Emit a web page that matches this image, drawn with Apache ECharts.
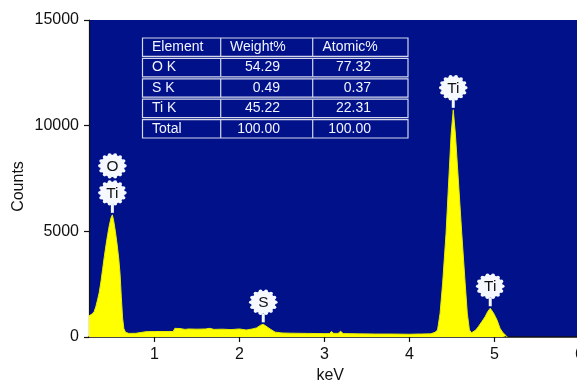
<!DOCTYPE html>
<html>
<head>
<meta charset="utf-8">
<script src="https://cdn.jsdelivr.net/npm/echarts@6/dist/echarts.min.js"></script>
<style>
  html, body { margin: 0; padding: 0; background: #fff; }
  #chart { width: 577px; height: 387px; }
</style>
</head>
<body>
<div id="chart"></div>
<script>
// EDS spectrum
const energyKeV = [
  0.23, 0.25, 0.27, 0.29, 0.31, 0.33, 0.35, 0.37, 0.39, 0.41, 0.43, 0.45, 0.47, 0.49, 0.505,
  0.52, 0.54, 0.56, 0.58, 0.595, 0.61, 0.625, 0.64, 0.66, 0.68, 0.70, 0.78, 0.80, 0.90, 1.00,
  1.10, 1.22, 1.24, 1.30, 1.36, 1.40, 1.50, 1.60, 1.65, 1.70, 1.80, 1.90, 2.00, 2.08, 2.15,
  2.20, 2.25, 2.28, 2.31, 2.36, 2.42, 2.50, 2.60, 2.80, 3.00, 3.06, 3.08, 3.11, 3.16, 3.19,
  3.22, 3.40, 3.60, 3.80, 4.00, 4.10, 4.12, 4.14, 4.25, 4.30, 4.33, 4.36, 4.39, 4.43, 4.47,
  4.49, 4.515, 4.54, 4.565, 4.615, 4.655, 4.68, 4.705, 4.73, 4.75, 4.78, 4.81, 4.85, 4.89, 4.92,
  4.95, 4.99, 5.03, 5.065, 5.10, 5.14, 5.15
];
const spectrumCounts = [
  1000, 1050, 1100, 1200, 1430, 1750, 2100, 2600, 3200, 3800, 4350, 4850, 5300, 5650, 5780,
  5500, 5000, 4400, 3700, 3000, 1900, 900, 400, 220, 170, 170, 175, 250, 250, 260,
  260, 260, 410, 400, 360, 380, 370, 380, 410, 360, 370, 350, 380, 330, 380,
  430, 560, 600, 520, 380, 230, 190, 180, 170, 160, 160, 260, 170, 170, 270,
  160, 150, 140, 140, 130, 140, 220, 140, 150, 220, 330, 1120, 2540, 4900, 8040,
  9600, 10750, 9600, 8040, 4900, 2540, 1120, 330, 200, 200, 330, 490, 720, 960, 1200,
  1360, 1120, 800, 410, 200, 50, 0
];

// peak annotations
const peakLabels = ['Ti', 'O', 'S', 'Ti', 'Ti'];
const peakKeV = [0.505, 0.505, 2.28, 4.515, 4.95];
const peakCounts = [5780, 5780, 600, 10750, 1360];
const peakStack = [0, 1, 0, 0, 0];

// axis ticks
const xTicks = [1, 2, 3, 4, 5, 6];
const yTicks = [0, 5000, 10000, 15000];

// quantification table
const tableHeader = ['Element', 'Weight%', 'Atomic%'];
const elementNames = ['O K', 'S K', 'Ti K', 'Total'];
const weightPct = ['54.29', '0.49', '45.22', '100.00'];
const atomicPct = ['77.32', '0.37', '22.31', '100.00'];

const FONT = '"Liberation Sans", Arial, sans-serif';
const chart = echarts.init(document.getElementById('chart'), null, { renderer: 'canvas' });

function buildTable() {
  const left = 142.5, right = 408, top = 37, rowH = 20.4;
  const cols = [220.7, 312.7];
  const rows = [tableHeader].concat(elementNames.map((n, i) => [n, weightPct[i], atomicPct[i]]));
  const els = [];
  const stroke = { stroke: '#d4d8ea', lineWidth: 1.2, fill: null };
  rows.forEach((row, i) => {
    const y0 = top + i * rowH;
    els.push({ type: 'rect', shape: { x: left, y: y0 + 1, width: right - left, height: rowH - 2 }, style: stroke, silent: true });
    cols.forEach((cx) => {
      els.push({ type: 'line', shape: { x1: cx, y1: y0 + 1, x2: cx, y2: y0 + rowH - 1 }, style: { stroke: '#d4d8ea', lineWidth: 1.2 }, silent: true });
    });
    const cy = y0 + rowH / 2;
    const textStyle = { fill: '#f2f4ff', font: '14px ' + FONT, verticalAlign: 'middle' };
    els.push({ type: 'text', x: 152, y: cy, style: Object.assign({ text: row[0], align: 'left' }, textStyle), silent: true });
    if (i === 0) {
      els.push({ type: 'text', x: 230, y: cy, style: Object.assign({ text: row[1], align: 'left' }, textStyle), silent: true });
      els.push({ type: 'text', x: 322.5, y: cy, style: Object.assign({ text: row[2], align: 'left' }, textStyle), silent: true });
    } else {
      els.push({ type: 'text', x: 280, y: cy, style: Object.assign({ text: row[1], align: 'right' }, textStyle), silent: true });
      els.push({ type: 'text', x: 371, y: cy, style: Object.assign({ text: row[2], align: 'right' }, textStyle), silent: true });
    }
  });
  return els;
}

function renderPeakLabel(params, api) {
  const tip = api.coord([api.value(0), api.value(1)]);
  const level = api.value(2);
  const r = 11.2;
  const cx = tip[0];
  const cy = tip[1] - 22 - level * 27;
  const children = [];
  if (level === 0) {
    children.push({
      type: 'line',
      shape: { x1: cx, y1: tip[1] - 2, x2: cx, y2: cy + r },
      style: { stroke: '#f5f8ff', lineWidth: 3 }
    });
  }
  const bumps = [];
  for (let k = 0; k < 14; k++) {
    const a = (k / 14) * Math.PI * 2;
    bumps.push({ type: 'circle', shape: { cx: Math.cos(a) * r, cy: Math.sin(a) * r, r: 1.8 }, style: { fill: '#f5f8ff' } });
  }
  children.push({
    type: 'group',
    x: cx,
    y: cy,
    scaleX: 1.1,
    children: bumps.concat([
      { type: 'circle', shape: { cx: 0, cy: 0, r: r }, style: { fill: '#f5f8ff' } },
      {
        type: 'text',
        style: {
          text: peakLabels[params.dataIndex], x: 0, y: 1,
          align: 'center', verticalAlign: 'middle',
          fill: '#111', font: '14px ' + FONT
        }
      }
    ])
  });
  return { type: 'group', children: children };
}

chart.setOption({
  animation: false,
  backgroundColor: '#ffffff',
  grid: {
    left: 89, top: 20, width: 490.5, height: 317,
    containLabel: false, outerBoundsMode: 'none',
    show: true, backgroundColor: '#00118a', borderWidth: 0
  },
  xAxis: {
    type: 'value',
    min: 0.23,
    max: 6,
    name: 'keV',
    nameLocation: 'middle',
    nameGap: 30,
    nameTextStyle: { color: '#111', fontSize: 16, fontFamily: FONT, padding: [0, 8, 0, 0] },
    axisLine: { show: true, onZero: false, lineStyle: { color: '#111', width: 1.5 } },
    axisTick: { show: true, length: 5, customValues: xTicks, lineStyle: { color: '#111', width: 1.2 } },
    axisLabel: { customValues: xTicks, color: '#111', fontSize: 16, fontFamily: FONT, margin: 10 },
    splitLine: { show: false }
  },
  yAxis: {
    type: 'value',
    min: 0,
    max: 15000,
    interval: 5000,
    name: 'Counts',
    nameLocation: 'middle',
    nameGap: 62,
    nameMoveOverlap: false,
    nameTextStyle: { color: '#111', fontSize: 16, fontFamily: FONT, padding: [0, 16, 0, 0] },
    axisLine: { show: true, lineStyle: { color: '#111', width: 1.2 } },
    axisTick: { show: true, length: 5, customValues: yTicks, lineStyle: { color: '#111', width: 1.2 } },
    axisLabel: {
      customValues: yTicks, color: '#111', fontSize: 16, fontFamily: FONT, margin: 10,
      formatter: (v) => String(v)
    },
    splitLine: { show: false }
  },
  graphic: buildTable(),
  series: [
    {
      type: 'line',
      data: energyKeV.map((e, i) => [e, spectrumCounts[i]]),
      symbol: 'none',
      smooth: false,
      lineStyle: { color: '#e8ec00', width: 1 },
      areaStyle: { color: '#ffff00', opacity: 1 },
      z: 2
    },
    {
      type: 'custom',
      data: peakKeV.map((e, i) => [e, peakCounts[i], peakStack[i]]),
      renderItem: renderPeakLabel,
      clip: false,
      z: 5
    }
  ]
});
</script>
</body>
</html>
